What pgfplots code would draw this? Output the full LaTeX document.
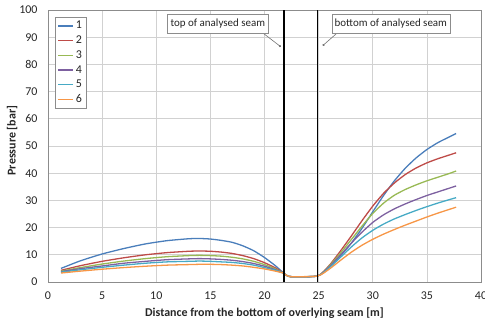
\documentclass[border=0pt]{standalone}
\usepackage{pgfplots}
\pgfplotsset{compat=1.18}
\usepackage{pgfplotstable}
\usepackage{fontspec}
\setmainfont{Carlito}
\usetikzlibrary{arrows.meta}
\definecolor{s1}{HTML}{4A7EBB}
\definecolor{s2}{HTML}{BE4B48}
\definecolor{s3}{HTML}{98B954}
\definecolor{s4}{HTML}{7D60A0}
\definecolor{s5}{HTML}{46AAC5}
\definecolor{s6}{HTML}{F79646}
\pgfplotstableread{
x     y1    y2    y3    y4    y5    y6
1.2   5.0   4.3   4.0   3.8   3.6   3.3
3     7.8   6.0   5.3   4.9   4.5   4.0
5     10.3  7.6   6.6   5.9   5.4   4.7
7     12.3  8.9   7.7   6.9   6.2   5.3
9     14.0  10.0  8.6   7.6   6.9   5.8
11    15.2  10.8  9.3   8.2   7.4   6.2
13    15.9  11.3  9.7   8.5   7.6   6.4
14    16.0  11.4  9.8   8.6   7.7   6.5
15    15.8  11.3  9.7   8.5   7.6   6.5
16    15.3  11.0  9.5   8.3   7.4   6.4
17    14.6  10.5  9.1   8.0   7.2   6.2
18    13.3  9.7   8.5   7.5   6.8   5.9
19    11.5  8.6   7.6   6.8   6.2   5.4
20    9.0   7.1   6.4   5.8   5.3   4.8
21    6.0   5.2   4.8   4.5   4.3   4.0
21.8  3.2   3.2   3.2   3.2   3.2   3.2
22.3  2.0   2.0   2.0   2.0   2.0   2.0
24.9  2.2   2.2   2.2   2.2   2.2   2.2
26    5.5   6.2   6.0   5.7   5.3   4.8
27    9.5   11.3  10.5  9.8   9.0   7.9
28    14.2  16.8  15.5  14.2  12.8  10.9
29    19.7  22.5  20.5  18.3  16.2  13.5
30    25.8  27.9  25.2  21.9  19.0  15.7
31    31.8  32.6  29.0  24.7  21.3  17.6
32    37.2  36.4  31.9  26.9  23.2  19.3
33    41.8  39.5  34.0  28.7  24.8  20.9
34    45.6  41.9  35.7  30.3  26.3  22.4
35    48.7  43.8  37.2  31.8  27.7  23.9
36    51.2  45.3  38.5  33.1  29.0  25.3
37    53.2  46.6  39.8  34.4  30.2  26.6
37.7  54.6  47.5  40.8  35.3  31.0  27.5
}\datatable
\pgfplotstableread{
x     y
21.8  0
21.8  100
}\lineA
\pgfplotstableread{
x     y
24.9  0
24.9  100
}\lineB
\begin{document}
\begin{tikzpicture}
\begin{axis}[
  name=ax, at={(0,0)}, anchor=south west,
  scale only axis, width=433bp, height=272bp,
  xmin=0, xmax=40, ymin=0, ymax=100,
  xtick={0,5,...,40}, ytick={0,10,...,100},
  grid=major, grid style={draw=black!18, line width=0.7pt},
  axis line style={draw=black!45, line width=0.7pt},
  major tick length=0pt,
  /pgf/number format/assume math mode=true,
  ticklabel style={font=\fontsize{12}{14}\selectfont, text=black!85},
  xticklabel style={yshift=-6bp},
  yticklabel style={xshift=-7bp},
  xlabel={Distance from the bottom of overlying seam [m]},
  ylabel={Pressure [bar]},
  label style={font=\bfseries\fontsize{12}{14}\selectfont, text=black!85},
  xlabel style={at={(axis description cs:0.5,-0.114)}, anchor=center},
  ylabel style={at={(axis description cs:-0.083,0.52)}, anchor=center},
  legend style={at={(axis description cs:0.0162,0.974)}, anchor=north west,
    draw=black!45, font=\fontsize{12}{13}\selectfont, text=black!85,
    inner sep=2bp, row sep=1.5bp, cells={anchor=west}},
  legend image code/.code={\draw[#1, line width=1.6pt] (0bp,0bp) -- (15bp,0bp);},
  every axis plot/.append style={line width=1.3pt, smooth, tension=0.35},
]
\addplot[s1] table[x=x,y=y1]{\datatable};
\addlegendentry{1}
\addplot[s2] table[x=x,y=y2]{\datatable};
\addlegendentry{2}
\addplot[s3] table[x=x,y=y3]{\datatable};
\addlegendentry{3}
\addplot[s4] table[x=x,y=y4]{\datatable};
\addlegendentry{4}
\addplot[s5] table[x=x,y=y5]{\datatable};
\addlegendentry{5}
\addplot[s6] table[x=x,y=y6]{\datatable};
\addlegendentry{6}
\addplot[black, line width=1.5pt, sharp plot, forget plot] table[x=x,y=y]{\lineA};
\addplot[black, line width=1.5pt, sharp plot, forget plot] table[x=x,y=y]{\lineB};
\draw[black!55, line width=0.6pt, -{Circle[length=2.2bp]}] (axis cs:19.9,91.4) -- (axis cs:21.5,86.5);
\draw[black!55, line width=0.6pt, -{Circle[length=2.2bp]}] (axis cs:26.67,91.4) -- (axis cs:25.38,86.9);
\node[draw=black!45, fill=white, font=\fontsize{11}{13}\selectfont, text=black!85,
  minimum width=101bp, minimum height=19bp, inner sep=1bp] at (axis cs:15.69,95.0) {top of analysed seam};
\node[draw=black!45, fill=white, font=\fontsize{11}{13}\selectfont, text=black!85,
  minimum width=118bp, minimum height=19bp, inner sep=1bp] at (axis cs:31.67,95.0) {bottom of analysed seam};
\end{axis}
\pgfresetboundingbox
\path[use as bounding box] ([shift={(-48bp,-42bp)}]ax.south west) rectangle ([shift={(4bp,10bp)}]ax.north east);
\end{tikzpicture}
\end{document}
